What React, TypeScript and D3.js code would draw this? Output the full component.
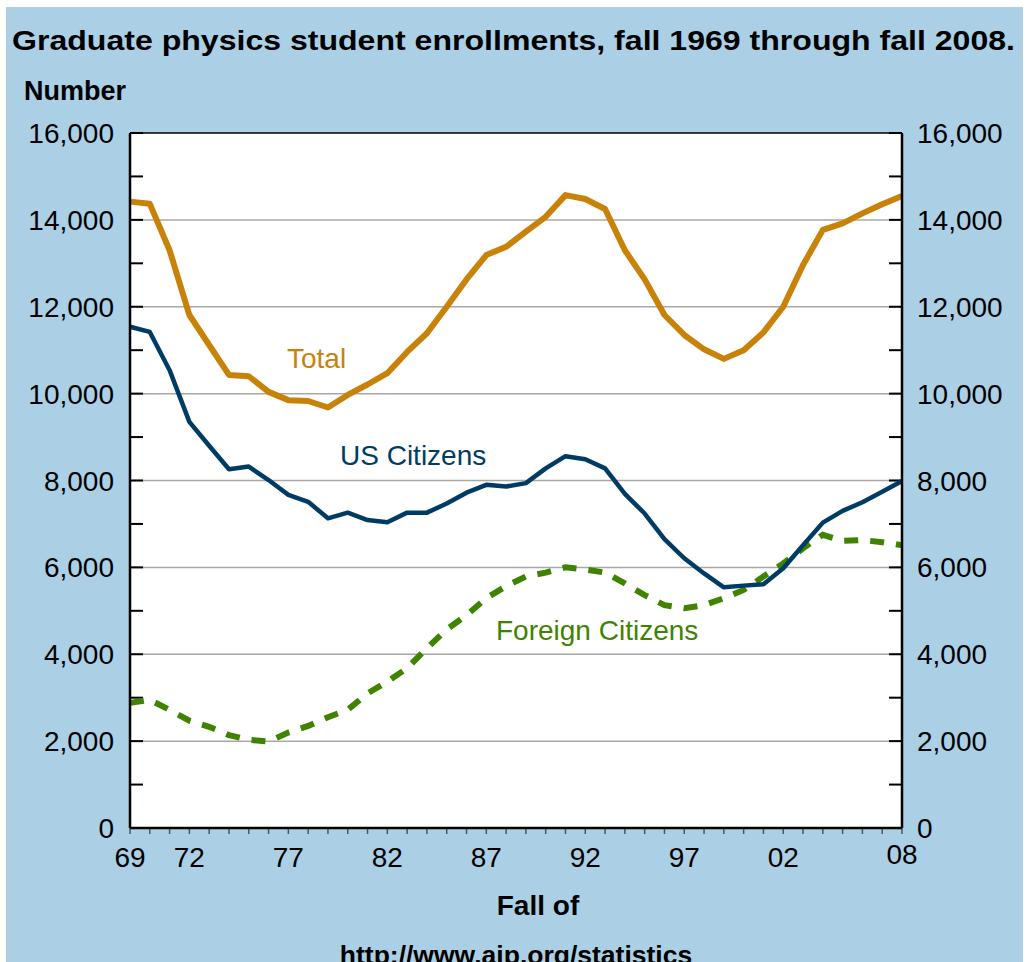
import React from "react";
import * as d3 from "d3";

const years: number[] = d3.range(1969, 2009);

const total: number[] = [
  14420, 14370, 13300, 11810, 11120, 10430, 10400, 10040, 9850, 9830,
  9680, 9970, 10210, 10470, 10960, 11390, 12000, 12630, 13190, 13380,
  13730, 14070, 14570, 14480, 14250, 13300, 12630, 11810, 11350, 11020,
  10800, 11000, 11410, 12000, 12960, 13770, 13920, 14150, 14360, 14550,
];

const usCitizens: number[] = [
  11540, 11420, 10540, 9350, 8800, 8260, 8320, 8010, 7670, 7510,
  7130, 7260, 7090, 7040, 7260, 7260, 7470, 7720, 7900, 7860,
  7940, 8280, 8560, 8490, 8280, 7690, 7240, 6650, 6210, 5860,
  5540, 5580, 5610, 5980, 6510, 7030, 7300, 7500, 7740, 7990,
];

const foreignCitizens: number[] = [
  2880, 2950, 2720, 2470, 2330, 2140, 2030, 1990, 2200, 2350,
  2550, 2720, 3100, 3370, 3680, 4140, 4570, 4900, 5290, 5570,
  5790, 5880, 6000, 5950, 5880, 5630, 5360, 5130, 5060, 5130,
  5290, 5480, 5790, 6090, 6440, 6750, 6610, 6630, 6580, 6510,
];

const yTicks: number[] = [0, 2000, 4000, 6000, 8000, 10000, 12000, 14000, 16000];
const yMinorTicks: number[] = d3.range(0, 16001, 1000);
const xTickYears: number[] = [1969, 1972, 1977, 1982, 1987, 1992, 1997, 2002, 2008];
const xTickLabels: string[] = ["69", "72", "77", "82", "87", "92", "97", "02", "08"];

const title = "Graduate physics student enrollments, fall 1969 through fall 2008.";
const yAxisTitle = "Number";
const xAxisTitle = "Fall of";
const sourceText = "http://www.aip.org/statistics";

const W = 1031;
const H = 962;
const left = 130;
const right = 902;
const top = 133;
const bottom = 828;

const BG = "#abd0e6";
const C_TOTAL = "#c98208";
const C_US = "#003b64";
const C_FOREIGN = "#408300";
const FONT = "'Liberation Sans', Arial, Helvetica, sans-serif";

export default function App() {
  const x = d3.scaleLinear().domain([1969, 2008]).range([left, right]);
  const y = d3.scaleLinear().domain([0, 16000]).range([bottom, top]);
  const line = d3
    .line<number>()
    .x((_, i) => x(years[i]))
    .y((d) => y(d));

  const fmt = d3.format(",");

  return (
    <div style={{ position: "absolute", left: 0, top: 0 }}>
      <svg width={W} height={H} style={{ display: "block" }} fontFamily={FONT}>
        <rect x={0} y={0} width={W} height={H} fill="#ffffff" />
        <rect x={6} y={7} width={1017} height={H - 7} fill={BG} />

        <text x={12} y={50} fontSize={27} fontWeight="bold" fill="#000" textLength={1003} lengthAdjust="spacingAndGlyphs">
          {title}
        </text>
        <text x={24} y={100} fontSize={27} fontWeight="bold" fill="#000">
          {yAxisTitle}
        </text>

        {/* plot background */}
        <rect x={left} y={top} width={right - left} height={bottom - top} fill="#ffffff" />

        {/* gridlines */}
        {yTicks
          .filter((t) => t > 0 && t < 16000)
          .map((t) => (
            <line key={"g" + t} x1={left} x2={right} y1={y(t)} y2={y(t)} stroke="#a8a8a8" strokeWidth={1.5} />
          ))}

        {/* y ticks */}
        {yMinorTicks.map((t) => (
          <g key={"yt" + t}>
            <line x1={left} x2={left + 13} y1={y(t)} y2={y(t)} stroke="#000" strokeWidth={2} />
            <line x1={right - 13} x2={right} y1={y(t)} y2={y(t)} stroke="#000" strokeWidth={2} />
          </g>
        ))}

        {/* x minor ticks */}
        {years.map((yr) => (
          <line key={"xt" + yr} x1={x(yr)} x2={x(yr)} y1={bottom} y2={bottom + 6} stroke="#555" strokeWidth={1.5} />
        ))}

        {/* series */}
        <path d={line(foreignCitizens) || ""} fill="none" stroke={C_FOREIGN} strokeWidth={6} strokeDasharray="14,12" />
        <path d={line(usCitizens) || ""} fill="none" stroke={C_US} strokeWidth={4.5} strokeLinejoin="round" />
        <path d={line(total) || ""} fill="none" stroke={C_TOTAL} strokeWidth={6} strokeLinejoin="round" />

        {/* frame */}
        <line x1={left} x2={right} y1={top} y2={top} stroke="#000" strokeWidth={1.5} />
        <line x1={left} x2={left} y1={top} y2={bottom} stroke="#000" strokeWidth={2.5} />
        <line x1={right} x2={right} y1={top} y2={bottom} stroke="#000" strokeWidth={2.5} />
        <line x1={left} x2={right} y1={bottom} y2={bottom} stroke="#000" strokeWidth={2.5} />

        {/* y labels */}
        {yTicks.map((t) => (
          <g key={"yl" + t}>
            <text x={114} y={y(t)} dy="0.36em" fontSize={28} textAnchor="end" fill="#000">
              {fmt(t)}
            </text>
            <text x={917} y={y(t)} dy="0.36em" fontSize={28} textAnchor="start" fill="#000">
              {fmt(t)}
            </text>
          </g>
        ))}

        {/* x labels */}
        {xTickYears.map((yr, i) => (
          <text
            key={"xl" + yr}
            x={x(yr)}
            y={yr === 2008 ? 864 : 867}
            fontSize={28}
            textAnchor="middle"
            fill="#000"
          >
            {xTickLabels[i]}
          </text>
        ))}

        {/* series labels */}
        <text x={287} y={368} fontSize={28} fill={C_TOTAL}>Total</text>
        <text x={340} y={465} fontSize={28} fill={C_US}>US Citizens</text>
        <text x={496} y={640} fontSize={28} fill={C_FOREIGN}>Foreign Citizens</text>

        <text x={538} y={915} fontSize={28} fontWeight="bold" textAnchor="middle" fill="#000">
          {xAxisTitle}
        </text>
        <text x={516} y={964} fontSize={26.5} fontWeight="bold" textAnchor="middle" fill="#000">
          {sourceText}
        </text>
      </svg>
    </div>
  );
}
